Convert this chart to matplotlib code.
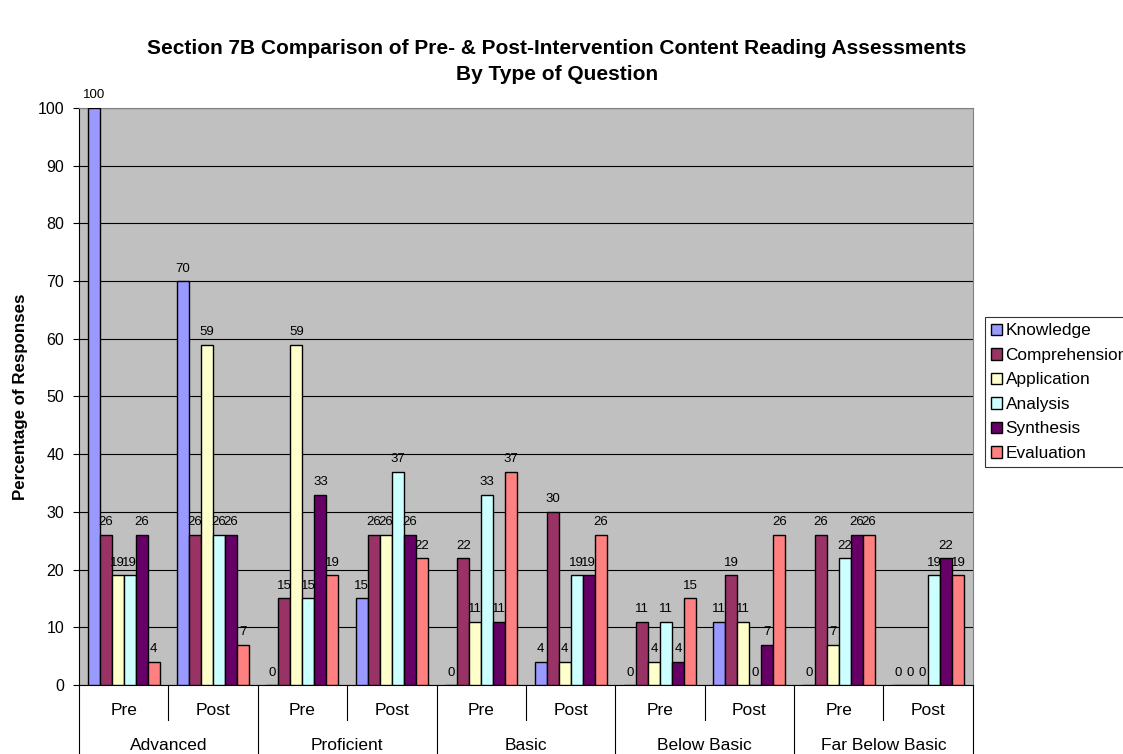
import numpy as np
import matplotlib.pyplot as plt
from matplotlib.transforms import blended_transform_factory

plt.rcParams['font.family'] = ['Liberation Sans', 'DejaVu Sans']

levels = ['Advanced', 'Proficient', 'Basic', 'Below Basic', 'Far Below Basic']
phases = ['Pre', 'Post']
series = ['Knowledge', 'Comprehension', 'Application', 'Analysis', 'Synthesis', 'Evaluation']
colors = ['#9999FF', '#993366', '#FFFFCC', '#CCFFFF', '#660066', '#FF8080']

# one value per (level, phase) group, in the order Adv Pre, Adv Post, Prof Pre, ...
knowledge     = [100, 70, 0, 15, 0, 4, 0, 11, 0, 0]
comprehension = [26, 26, 15, 26, 22, 30, 11, 19, 26, 0]
application   = [19, 59, 59, 26, 11, 4, 4, 11, 7, 0]
analysis      = [19, 26, 15, 37, 33, 19, 11, 0, 22, 19]
synthesis     = [26, 26, 33, 26, 11, 19, 4, 7, 26, 22]
evaluation    = [4, 7, 19, 22, 37, 26, 15, 26, 26, 19]
values = [knowledge, comprehension, application, analysis, synthesis, evaluation]

fig = plt.figure(figsize=(11.23, 7.54), dpi=100)
ax = fig.add_axes([0.0703, 0.0915, 0.796, 0.7653])
ax.set_facecolor('#C0C0C0')

n_groups = len(levels) * len(phases)
x = np.arange(n_groups)
width = 0.805 / len(series)

for i, (name, vals, col) in enumerate(zip(series, values, colors)):
    pos = x - 0.4025 + width * (i + 0.5)
    ax.bar(pos, vals, width, color=col, edgecolor='black', linewidth=1.0,
           label=name, zorder=3)
    for px, v in zip(pos, vals):
        ax.annotate(str(v), (px, v), xytext=(0, 9), textcoords='offset points',
                    ha='center', va='center', fontsize=9.5, zorder=4,
                    annotation_clip=False)

ax.set_xlim(-0.5, n_groups - 0.5)
ax.set_ylim(0, 100)
ax.set_yticks(range(0, 101, 10))
ax.tick_params(axis='y', labelsize=11.5, length=4.5, pad=6, direction='out')
ax.yaxis.grid(True, color='black', linewidth=0.8, zorder=0)
ax.set_xticks([])
for s in ['top', 'right']:
    ax.spines[s].set_color('#808080')
for s in ['left', 'bottom']:
    ax.spines[s].set_color('black')

# two-level category axis drawn below the plot
tr = blended_transform_factory(ax.transData, ax.transAxes)
for k in range(n_groups + 1):
    bx = k - 0.5
    depth = -0.135 if k % 2 == 0 else -0.06
    ax.plot([bx, bx], [0, depth], color='black', linewidth=0.8,
            transform=tr, clip_on=False)
for k in range(n_groups):
    ax.text(k, -0.045, phases[k % 2], transform=tr, ha='center', va='center',
            fontsize=12.5)
for j, lev in enumerate(levels):
    ax.text(2 * j + 0.5, -0.105, lev, transform=tr, ha='center', va='center',
            fontsize=12.5)

ax.set_ylabel('Percentage of Responses', fontsize=12.2, fontweight='bold', labelpad=7)

fig.text(0.496, 0.948,
         'Section 7B Comparison of Pre- & Post-Intervention Content Reading Assessments\nBy Type of Question',
         ha='center', va='top', fontsize=15, fontweight='bold', linespacing=1.45)

leg = ax.legend(loc='upper left', bbox_to_anchor=(0.877, 0.579), bbox_transform=fig.transFigure,
                frameon=True, fancybox=False, edgecolor='black', fontsize=12.4,
                handlelength=0.65, handleheight=0.65, handletextpad=0.2,
                labelspacing=0.55, borderpad=0.35, borderaxespad=0)
leg.get_frame().set_linewidth(0.8)

fig.savefig('out.png', dpi=100)
